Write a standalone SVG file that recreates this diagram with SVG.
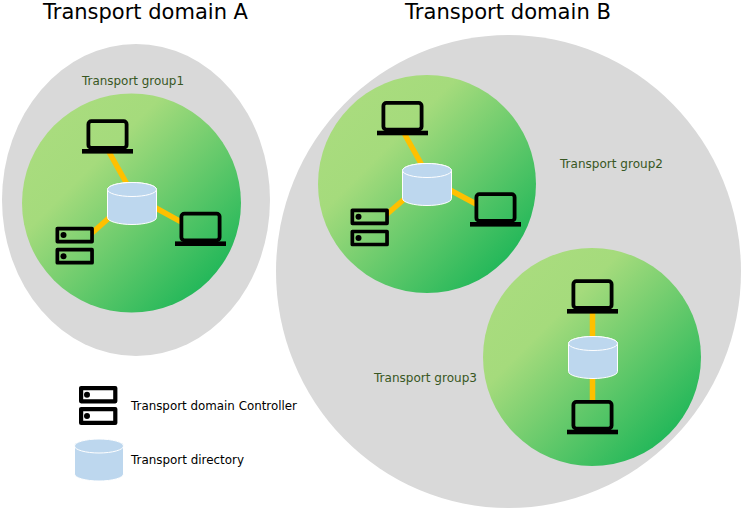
<svg xmlns="http://www.w3.org/2000/svg" xmlns:xlink="http://www.w3.org/1999/xlink" width="742" height="508" viewBox="0 0 742 508">
<style>
text{font-family:"DejaVu Sans","Noto Sans",sans-serif}
.title{font-size:20.500px;fill:#000}
.group{font-size:12px;fill:#385723}
.legend{font-size:12px;fill:#000}
.domain{fill:#d9d9d9}
.grp{fill:url(#g)}
.link{stroke:#ffc000;stroke-width:5.500;fill:none}
</style>
<defs>
<linearGradient id="g" x1="0.15" y1="0.15" x2="0.85" y2="0.85">
<stop offset="0" stop-color="#a9dc7e"/><stop offset="0.25" stop-color="#a5db7c"/><stop offset="1" stop-color="#25b85a"/>
</linearGradient>
<symbol id="laptop" overflow="visible">
<rect x="-19.100" y="1.900" width="38.200" height="26.700" rx="3" fill="none" stroke="#000" stroke-width="3.800"/>
<rect x="-25.500" y="29.700" width="51" height="4.600" fill="#000"/>
</symbol>
<symbol id="server" overflow="visible">
<g fill="none" stroke="#000" stroke-width="3.700" stroke-linejoin="round">
<rect x="1.850" y="1.850" width="34.700" height="13"/>
<rect x="1.850" y="23" width="34.700" height="13"/>
</g>
<circle cx="8" cy="8.300" r="3" fill="#000"/><circle cx="8" cy="29.500" r="3" fill="#000"/>
</symbol>
<symbol id="server-large" overflow="visible">
<g fill="none" stroke="#000" stroke-width="4.200" stroke-linejoin="round">
<rect x="2.100" y="2.100" width="34.200" height="13.200"/>
<rect x="2.100" y="23.100" width="34.200" height="13.800"/>
</g>
<circle cx="8" cy="8.700" r="3" fill="#000"/><circle cx="8" cy="30" r="3" fill="#000"/>
</symbol>
<symbol id="cyl" overflow="visible">
<path d="M-24.500 7V35A24.500 7 0 0 0 24.500 35V7A24.500 7 0 0 0 -24.500 7Z" fill="#bdd7ee" stroke="#fff" stroke-width="1"/>
<ellipse cx="0" cy="7" rx="24.500" ry="7" fill="#bdd7ee" stroke="#fff" stroke-width="1"/>
</symbol>
</defs>

<g id="domain-a"><ellipse class="domain" cx="136" cy="200" rx="134" ry="156"/>
<text class="title" x="43" y="19" textLength="205" lengthAdjust="spacingAndGlyphs">Transport domain A</text></g>
<g id="domain-b"><ellipse class="domain" cx="508.500" cy="271.500" rx="232.500" ry="236.500"/>
<text class="title" x="405" y="19" textLength="206" lengthAdjust="spacingAndGlyphs">Transport domain B</text></g>

<g id="group1"><circle class="grp" cx="131.500" cy="203" r="109.500"/>
<text class="group" x="82" y="85" textLength="102" lengthAdjust="spacingAndGlyphs">Transport group1</text></g>
<g id="group2"><circle class="grp" cx="427" cy="184" r="109"/>
<text class="group" x="560" y="168" textLength="103" lengthAdjust="spacingAndGlyphs">Transport group2</text></g>
<g id="group3"><circle class="grp" cx="592" cy="357" r="109"/>
<text class="group" x="374" y="382" textLength="103" lengthAdjust="spacingAndGlyphs">Transport group3</text></g>

<g id="connectors">
<path class="link" d="M109 152L128 186M155 207.500L182 222.300M110 217L92 233"/>
<path class="link" d="M404.500 134L423 167M450 190L477 204.500M405 198.500L387 214"/>
<path class="link" d="M592.500 312V340M592.500 376V402"/>
</g>

<g id="laptop-a1"><use xlink:href="#laptop" href="#laptop" x="107.500" y="119.300"/></g>
<g id="laptop-a2"><use xlink:href="#laptop" href="#laptop" x="200.500" y="211.700"/></g>
<g id="server-a"><use xlink:href="#server" href="#server" x="55.500" y="226.700"/></g>
<g id="dir-a"><use xlink:href="#cyl" href="#cyl" x="132" y="182.500"/></g>

<g id="laptop-b1"><use xlink:href="#laptop" href="#laptop" x="402.500" y="101"/></g>
<g id="laptop-b2"><use xlink:href="#laptop" href="#laptop" x="495.500" y="192.300"/></g>
<g id="server-b"><use xlink:href="#server" href="#server" x="350.500" y="208.500"/></g>
<g id="dir-b"><use xlink:href="#cyl" href="#cyl" x="427" y="163.500"/></g>

<g id="laptop-c1"><use xlink:href="#laptop" href="#laptop" x="592.500" y="279.300"/></g>
<g id="laptop-c2"><use xlink:href="#laptop" href="#laptop" x="592.500" y="400"/></g>
<g id="dir-c"><use xlink:href="#cyl" href="#cyl" x="593" y="336.500"/></g>

<g id="legend-controller"><use xlink:href="#server-large" href="#server-large" x="79" y="386"/>
<text class="legend" x="131" y="410" textLength="166" lengthAdjust="spacingAndGlyphs">Transport domain Controller</text></g>
<g id="legend-directory"><use xlink:href="#cyl" href="#cyl" x="99" y="439"/>
<text class="legend" x="131" y="464" textLength="113" lengthAdjust="spacingAndGlyphs">Transport directory</text></g>
</svg>
